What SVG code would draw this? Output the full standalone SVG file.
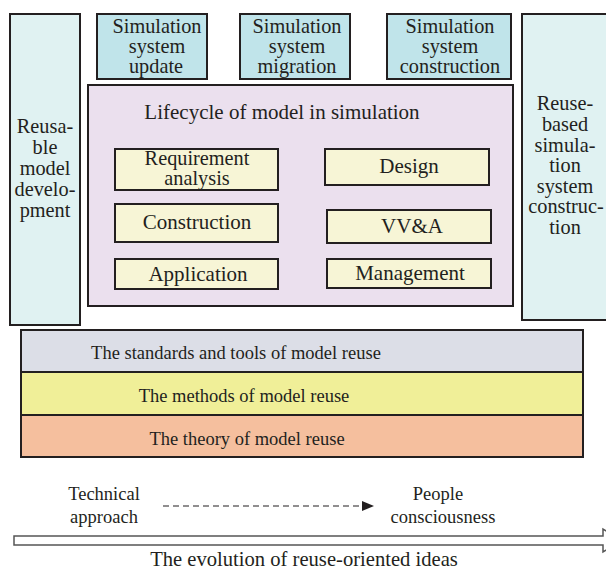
<svg xmlns="http://www.w3.org/2000/svg" width="606" height="572" viewBox="0 0 606 572" font-family="'Liberation Serif', 'Times New Roman', 'DejaVu Serif', serif">
<style>
text{font-family:"Liberation Serif","Times New Roman","DejaVu Serif",serif;font-size:21px;fill:#231f20;text-anchor:middle}
.m{font-size:20.3px}
.s{font-size:18.5px}
.c{font-size:20.6px}
.b{stroke:#231f20;stroke-width:2}
.side{fill:#e0f2f2}
.top{fill:#c0e4ea}
.life{fill:#ebe0ee}
.item{fill:#f7f5d6}
</style>
<defs>
<marker id="ah" markerWidth="12" markerHeight="10" refX="11" refY="5" orient="auto" markerUnits="userSpaceOnUse">
<path d="M0,0 L12,5 L0,10 Z" fill="#231f20"/>
</marker>
</defs>
<g id="reusable-model-development">
<rect class="b side" x="10" y="14" width="70" height="311"/>
<text class="m" x="45" y="133">Reusa-</text>
<text class="m" x="45" y="154">ble</text>
<text class="m" x="45" y="175">model</text>
<text class="m" x="45" y="196">develo-</text>
<text class="m" x="45" y="217">pment</text>
</g>
<g id="reuse-based-construction">
<rect class="b side" x="522" y="14" width="90" height="306"/>
<text class="m" x="565" y="110">Reuse-</text>
<text class="m" x="565" y="131">based</text>
<text class="m" x="565" y="152">simula-</text>
<text class="m" x="565" y="172">tion</text>
<text class="m" x="565" y="193">system</text>
<text class="m" x="566" y="213">construc-</text>
<text class="m" x="565" y="234">tion</text>
</g>
<g id="sim-update">
<rect class="b top" x="97" y="14" width="110" height="65"/>
<text class="m" x="157" y="33">Simulation</text>
<text class="m" x="157" y="53">system</text>
<text class="m" x="156" y="73">update</text>
</g>
<g id="sim-migration">
<rect class="b top" x="240" y="14" width="110" height="65"/>
<text class="m" x="297" y="33">Simulation</text>
<text class="m" x="297" y="53">system</text>
<text class="m" x="297" y="73">migration</text>
</g>
<g id="sim-construction">
<rect class="b top" x="387" y="14" width="124" height="65"/>
<text class="m" x="450" y="33">Simulation</text>
<text class="m" x="450" y="53">system</text>
<text class="m" x="450" y="73">construction</text>
</g>
<g id="lifecycle">
<rect class="b life" x="88" y="85" width="425" height="221"/>
<text x="282" y="119">Lifecycle of model in simulation</text>
</g>
<g id="requirement-analysis">
<rect class="b item" x="115" y="149" width="163" height="41"/>
<text class="m" x="197" y="165">Requirement</text>
<text class="m" x="197" y="185">analysis</text>
</g>
<g id="construction">
<rect class="b item" x="115" y="204" width="163" height="38"/>
<text x="197" y="229">Construction</text>
</g>
<g id="application">
<rect class="b item" x="115" y="259" width="163" height="30"/>
<text x="198" y="281">Application</text>
</g>
<g id="design">
<rect class="b item" x="325" y="149" width="164" height="36"/>
<text x="409" y="173">Design</text>
</g>
<g id="vva">
<rect class="b item" x="327" y="210" width="164" height="33"/>
<text x="412" y="233">VV&amp;A</text>
</g>
<g id="management">
<rect class="b item" x="327" y="259" width="164" height="29"/>
<text x="410" y="280">Management</text>
</g>
<g id="standards">
<rect class="b" fill="#dcdee7" x="21" y="330" width="562" height="42"/>
<text class="s" x="236" y="359">The standards and tools of model reuse</text>
</g>
<g id="methods">
<rect class="b" fill="#f0ef98" x="21" y="372" width="562" height="43"/>
<text class="s" x="244" y="402">The methods of model reuse</text>
</g>
<g id="theory">
<rect class="b" fill="#f5bf9e" x="21" y="415" width="562" height="42"/>
<text class="s" x="247" y="445">The theory of model reuse</text>
</g>
<g id="technical-approach">
<text class="s" x="104" y="500">Technical</text>
<text class="s" x="104" y="523">approach</text>
</g>
<g id="people-consciousness">
<text class="s" x="438" y="500">People</text>
<text class="s" x="443" y="523">consciousness</text>
</g>
<g id="connectors">
<line x1="163" y1="506" x2="373" y2="506" stroke="#231f20" stroke-width="1.2" stroke-dasharray="6,4" marker-end="url(#ah)"/>
<path d="M14,536 L603,536 L603,529 L622,540.5 L603,552 L603,545 L14,545 Z" fill="#fff" stroke="#555" stroke-width="1.5"/>
</g>
<g id="caption">
<text class="c" x="304" y="566">The evolution of reuse-oriented ideas</text>
</g>
</svg>
